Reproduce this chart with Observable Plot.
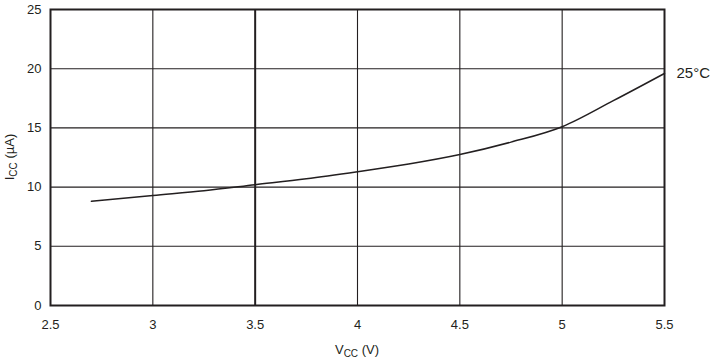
<!DOCTYPE html>
<html><head><meta charset="utf-8">
<script src="https://cdn.jsdelivr.net/npm/d3@7"></script>
<script src="https://cdn.jsdelivr.net/npm/@observablehq/plot@0.6"></script>
<style>body{margin:0;background:#fff;font-family:"Liberation Sans",Arial,sans-serif}</style>
</head><body><div id="chart"></div>
<script>
const vcc = [2.7, 3.0, 3.25, 3.5, 3.75, 4.0, 4.25, 4.5, 4.75, 5.0, 5.25, 5.5];
const icc = [8.8, 9.3, 9.7, 10.2, 10.7, 11.3, 11.95, 12.75, 13.8, 15.1, 17.3, 19.6];
const xTicks = [2.5, 3, 3.5, 4, 4.5, 5, 5.5];
const yTicks = [0, 5, 10, 15, 20, 25];
const xGrid = [3, 3.5, 4, 4.5, 5];
const yGrid = [5, 10, 15, 20];
const seriesLabel = "25°C";
const data = vcc.map((v, i) => ({v, i: icc[i]}));
const ink = "#231f20";

const chart = Plot.plot({
  width: 715, height: 360,
  marginLeft: 50, marginRight: 51, marginTop: 9, marginBottom: 55,
  style: {fontFamily: "'Liberation Sans', Arial, sans-serif", fontSize: "13px", color: ink, background: "#fff"},
  x: {domain: [2.5, 5.5], ticks: xTicks, tickSize: 0, tickPadding: 14, tickFormat: d => String(d), label: null},
  y: {domain: [0, 25], ticks: yTicks, tickSize: 0, tickPadding: 9, tickFormat: d => String(d), label: null},
  marks: [
    Plot.ruleX(xGrid, {stroke: ink, strokeWidth: d => d === 3.5 ? 2 : 1.1}),
    Plot.ruleY(yGrid, {stroke: ink, strokeWidth: 1.1}),
    Plot.frame({stroke: ink, strokeWidth: 2}),
    Plot.line(data, {x: "v", y: "i", curve: "monotone-x", stroke: ink, strokeWidth: 1.5}),
    Plot.text([data[data.length - 1]], {x: "v", y: "i", text: () => seriesLabel, dx: 12, textAnchor: "start", fontSize: 15, fill: ink})
  ]
});
document.getElementById("chart").appendChild(chart);

const svg = d3.select(chart);
const yl = svg.append("text")
  .attr("transform", "translate(14,157) rotate(-90)")
  .attr("text-anchor", "middle").attr("fill", ink).attr("font-size", 13);
yl.append("tspan").text("I");
yl.append("tspan").attr("font-size", 10).attr("dy", 3).text("CC");
yl.append("tspan").attr("dy", -3).text(" (µA)");

const xl = svg.append("text")
  .attr("x", 357).attr("y", 354)
  .attr("text-anchor", "middle").attr("fill", ink).attr("font-size", 13);
xl.append("tspan").text("V");
xl.append("tspan").attr("font-size", 10).attr("dy", 3).text("CC");
xl.append("tspan").attr("dy", -3).text(" (V)");
</script></body></html>
